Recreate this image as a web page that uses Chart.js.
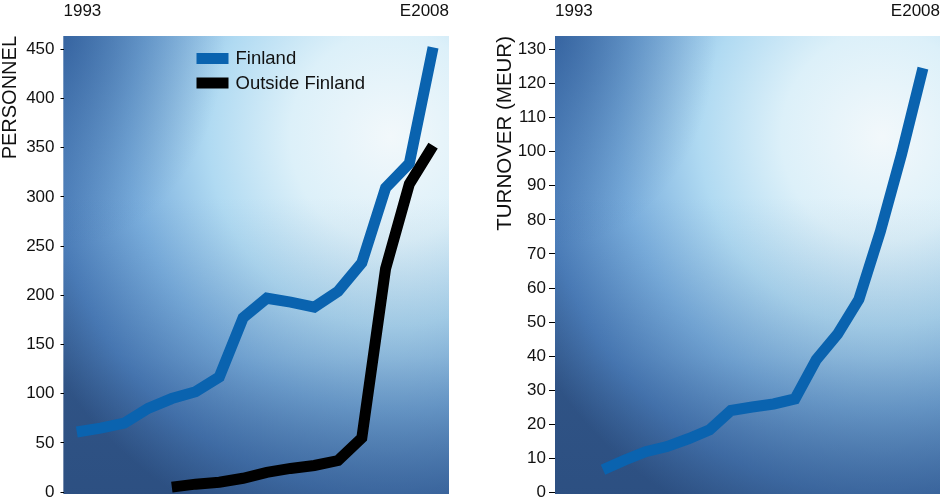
<!DOCTYPE html>
<html>
<head>
<meta charset="utf-8">
<script src="https://cdn.jsdelivr.net/npm/chart.js@4/dist/chart.umd.min.js"></script>
<style>
  html, body { margin: 0; padding: 0; background: #ffffff; }
  #wrap { position: relative; width: 940px; height: 504px; }
  canvas { position: absolute; top: 0; }
  #c1 { left: 0; }
  #c2 { left: 470px; }
</style>
</head>
<body>
<div id="wrap">
  <canvas id="c1" width="470" height="504"></canvas>
  <canvas id="c2" width="470" height="504"></canvas>
</div>
<script>
// ---- data ----
const years = [1993,1994,1995,1996,1997,1998,1999,2000,2001,2002,2003,2004,2005,2006,2007,2008];
const xTickLabels = ['1993', 'E2008'];
const seriesNames = ['Finland', 'Outside Finland'];
const personnelFinland = [61, 65, 70, 85, 95, 102, 117, 177, 197, 193, 188, 204, 233, 309, 334, 452];
const personnelOutside = [null, null, null, null, 5, 8, 10, 14, 20, 24, 27, 32, 55, 227, 313, 352];
const turnover = [6.7, 9.5, 12.0, 13.5, 15.8, 18.4, 24.1, 25.1, 26.0, 27.5, 39, 46.5, 56.7, 76.5, 99.3, 124.5];
const personnelTicks = [0, 50, 100, 150, 200, 250, 300, 350, 400, 450];
const turnoverTicks = [0, 10, 20, 30, 40, 50, 60, 70, 80, 90, 100, 110, 120, 130];
const yTitles = ['PERSONNEL', 'TURNOVER (MEUR)'];

// ---- styling ----
const FONT = "'Liberation Sans', Arial, Helvetica, sans-serif";
const BLUE = '#0a63af';
const BLACK = '#000000';
Chart.defaults.font.family = FONT;
Chart.defaults.color = '#111111';

const bgPlugin = {
  id: 'bgGradient',
  beforeDraw(chart) {
    const {ctx, chartArea: a} = chart;
    const w = a.right - a.left, h = a.bottom - a.top;
    ctx.save();
    ctx.beginPath();
    ctx.rect(a.left, a.top, w, h);
    ctx.clip();
    ctx.fillStyle = '#2f5285';
    ctx.fillRect(a.left, a.top, w, h);
    // main light glow, upper right
    ctx.save();
    ctx.translate(a.left + 0.85 * w, a.top + 0.22 * h);
    const rx = 1.05 * w, ry = 0.92 * h;
    ctx.scale(1, ry / rx);
    const g = ctx.createRadialGradient(0, 0, 0, 0, 0, rx);
    g.addColorStop(0.0, '#f2f8fb');
    g.addColorStop(0.25, '#dcf0f9');
    g.addColorStop(0.45, '#b0daf2');
    g.addColorStop(0.65, '#7aaedd');
    g.addColorStop(0.85, '#4c7eba');
    g.addColorStop(1.0, '#325688');
    ctx.fillStyle = g;
    ctx.fillRect(-3 * rx, -3 * rx, 6 * rx, 6 * rx);
    ctx.restore();
    // darker corner, top left
    ctx.save();
    ctx.translate(a.left, a.top);
    ctx.scale(1, 1.3);
    const g2 = ctx.createRadialGradient(0, 0, 0, 0, 0, 0.42 * w);
    g2.addColorStop(0, 'rgba(32,74,135,0.5)');
    g2.addColorStop(1, 'rgba(32,74,135,0)');
    ctx.fillStyle = g2;
    ctx.fillRect(-w, -w, 2 * w, 2 * w);
    ctx.restore();
    // darker band along bottom (smooth)
    const g3 = ctx.createLinearGradient(0, a.top, 0, a.bottom);
    g3.addColorStop(0.0, 'rgba(38,72,122,0)');
    g3.addColorStop(0.35, 'rgba(38,72,122,0)');
    g3.addColorStop(0.7, 'rgba(38,72,122,0.15)');
    g3.addColorStop(1.0, 'rgba(38,72,122,0.45)');
    ctx.fillStyle = g3;
    ctx.fillRect(a.left, a.top, w, h);
    ctx.restore();
  }
};

const legendPlugin = {
  id: 'innerLegend',
  afterDatasetsDraw(chart, args, opts) {
    if (!opts || !opts.show) return;
    const {ctx, chartArea: a} = chart;
    ctx.save();
    ctx.font = '18.5px ' + FONT;
    ctx.textBaseline = 'middle';
    ctx.textAlign = 'left';
    chart.data.datasets.forEach((ds, i) => {
      const x = a.left + 133;
      const y = a.top + 17 + i * 24.5;
      ctx.fillStyle = ds.borderColor;
      ctx.fillRect(x, y, 32, 11);
      ctx.fillStyle = '#111111';
      ctx.fillText(ds.label, x + 39, y + 6);
    });
    ctx.restore();
  }
};

function pts(vals) { return years.map((yr, i) => ({x: yr, y: vals[i]})); }

function lineDs(label, vals, color) {
  return {
    label, data: pts(vals), borderColor: color, backgroundColor: color,
    borderWidth: 11, pointRadius: 0, tension: 0,
    borderJoinStyle: 'miter', borderCapStyle: 'butt', spanGaps: false
  };
}

function makeOptions(cfg) {
  return {
    responsive: false, animation: false, devicePixelRatio: 1,
    layout: { padding: { left: 0, right: cfg.padRight, top: 0, bottom: 10 } },
    plugins: { legend: { display: false }, tooltip: { enabled: false }, innerLegend: { show: cfg.legend } },
    scales: {
      x: {
        type: 'linear', position: 'top', min: cfg.xMin, max: cfg.xMax,
        grid: { display: false, drawTicks: false }, border: { display: false },
        afterFit(s) { s.height = 36; s.paddingLeft = 0; s.paddingRight = 0; },
        afterBuildTicks(s) { s.ticks = [{value: s.min}, {value: s.max}]; },
        ticks: {
          align: 'inner', maxRotation: 0, autoSkip: false, padding: 14,
          font: { size: 17 }, color: '#111111',
          callback: (v, i) => xTickLabels[i]
        }
      },
      y: {
        type: 'linear', min: cfg.yMin, max: cfg.yMax,
        afterFit(s) { s.width = cfg.yWidth; s.paddingTop = 0; s.paddingBottom = 0; },
        afterBuildTicks(s) { s.ticks = cfg.yTicks.map(v => ({value: v})); },
        grid: { drawOnChartArea: false, drawTicks: true, tickLength: cfg.tickLen, color: '#000000', tickWidth: 1 },
        border: { display: false },
        ticks: { padding: cfg.tickPad, font: { size: 17 }, color: '#111111' },
        title: {
          display: true, text: cfg.title, align: 'end', color: '#111111',
          font: { size: cfg.titleSize, lineHeight: 1 }, padding: { top: cfg.titlePad, bottom: 0 }
        }
      }
    }
  };
}

new Chart(document.getElementById('c1'), {
  type: 'line',
  data: { datasets: [
    lineDs(seriesNames[0], personnelFinland, BLUE),
    lineDs(seriesNames[1], personnelOutside, BLACK)
  ]},
  options: makeOptions({
    padRight: 21, xMin: 1992.44, xMax: 2008.67, yMin: -2, yMax: 463.5,
    yWidth: 63.5, yTicks: personnelTicks, tickLen: 3, tickPad: 6,
    title: yTitles[0], titleSize: 20, titlePad: 0, legend: true
  }),
  plugins: [bgPlugin, legendPlugin]
});

new Chart(document.getElementById('c2'), {
  type: 'line',
  data: { datasets: [ lineDs('Turnover', turnover, BLUE) ] },
  options: makeOptions({
    padRight: 0, xMin: 1990.75, xMax: 2008.8, yMin: -0.4, yMax: 133.9,
    yWidth: 85, yTicks: turnoverTicks, tickLen: 6, tickPad: 3,
    title: yTitles[1], titleSize: 20.5, titlePad: 25, legend: false
  }),
  plugins: [bgPlugin, legendPlugin]
});
</script>
</body>
</html>
